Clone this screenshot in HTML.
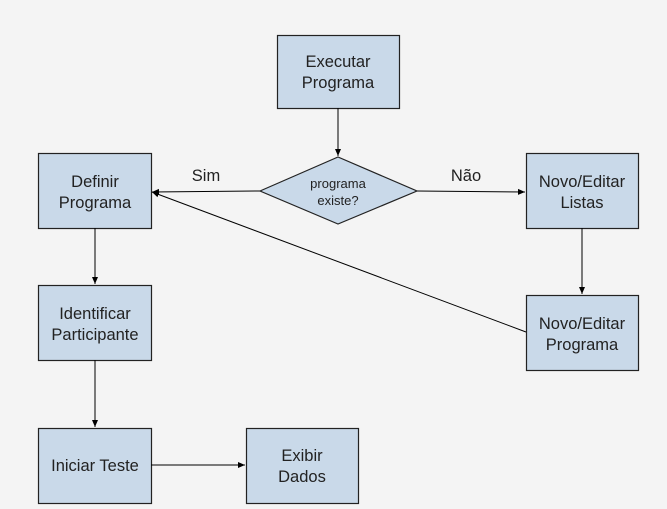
<!DOCTYPE html>
<html><head><style>
html,body{margin:0;padding:0;background:#f4f4f4;}
svg{display:block}
text{font-family:"Liberation Sans",sans-serif;fill:#222;}
</style></head><body>
<svg width="667" height="509" viewBox="0 0 667 509">
<defs><marker id="a" markerWidth="8" markerHeight="8" refX="7" refY="4" orient="auto" markerUnits="userSpaceOnUse"><path d="M0,1 L7,4 L0,7 z" fill="#000"/></marker></defs>
<g fill="#c9d9e9" stroke="#222" stroke-width="1.2">
<rect x="277.5" y="35.5" width="122" height="73"/>
<rect x="38.5" y="153.5" width="113" height="75"/>
<rect x="526.5" y="153.5" width="112" height="75"/>
<rect x="38.5" y="285.5" width="113" height="75"/>
<rect x="526.5" y="295.5" width="112" height="75"/>
<rect x="38.5" y="428.5" width="113" height="75"/>
<rect x="246.5" y="428.5" width="112" height="75"/>
<polygon points="260,191 338,157 417,191 338,224"/>
</g>
<g stroke="#000" stroke-width="1" fill="none" marker-end="url(#a)">
<line x1="338" y1="108" x2="338" y2="156"/>
<line x1="260" y1="191" x2="152" y2="192"/>
<line x1="417" y1="191" x2="525" y2="192"/>
<line x1="582" y1="228" x2="582" y2="294"/>
<line x1="526" y1="332" x2="152" y2="192"/>
<line x1="95" y1="228" x2="95" y2="284"/>
<line x1="95" y1="360" x2="95" y2="427"/>
<line x1="151" y1="465" x2="245" y2="465"/>
</g>
<g font-size="16.5" text-anchor="middle">
<text x="338" y="67">Executar</text><text x="338" y="88">Programa</text>
<text x="95" y="187">Definir</text><text x="95" y="208">Programa</text>
<text x="582" y="187">Novo/Editar</text><text x="582" y="208">Listas</text>
<text x="95" y="319">Identificar</text><text x="95" y="340">Participante</text>
<text x="582" y="329">Novo/Editar</text><text x="582" y="350">Programa</text>
<text x="95" y="471">Iniciar Teste</text>
<text x="302" y="461">Exibir</text><text x="302" y="482">Dados</text>
<text x="206" y="181">Sim</text><text x="466" y="181">Não</text>
</g>
<g font-size="13" text-anchor="middle">
<text x="338" y="188">programa</text><text x="338" y="205">existe?</text>
</g>
</svg>
</body></html>
